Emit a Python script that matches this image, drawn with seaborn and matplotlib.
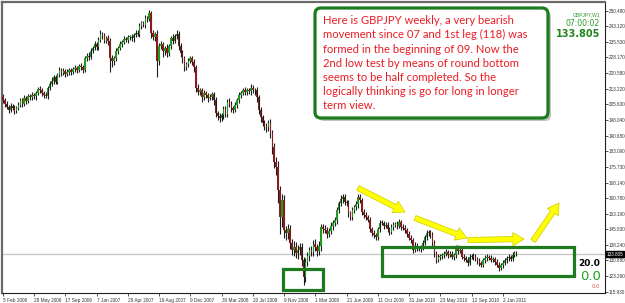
import numpy as np
import pandas as pd
import matplotlib
matplotlib.use("Agg")
import matplotlib.pyplot as plt
import matplotlib.transforms as mtransforms
from matplotlib.patches import Rectangle, FancyBboxPatch, FancyArrowPatch
import seaborn as sns

# ---------------- data ----------------
closes = [
    207.5, 206.0, 204.5, 203.0, 204.8, 204.0, 202.5, 204.0, 205.5, 207.5,
    206.0, 208.5, 207.2, 209.5, 209.0, 210.2, 209.4, 211.0, 213.0, 212.3,
    211.0, 210.0, 209.5, 213.5, 215.6, 217.0, 218.5, 216.5, 219.8, 221.9,
    220.5, 221.8, 220.0, 221.2, 222.0, 221.0, 222.5, 223.0, 222.0, 223.8,
    223.3, 222.0, 227.6, 229.0, 228.5, 231.4, 232.5, 234.7, 233.0, 236.5,
    239.5, 238.6, 236.0, 237.5, 236.0, 228.0, 226.5, 228.0, 231.0, 232.5,
    234.7, 235.5, 237.0, 236.5, 237.8, 238.0, 237.2, 239.0, 240.0, 239.2,
    243.0, 244.5, 243.8, 247.0, 246.5, 249.5, 240.0, 238.0, 239.5, 226.6,
    233.8, 234.5, 231.0, 232.8, 230.4, 233.5, 237.6, 236.0, 238.5, 239.5,
    233.8, 230.0, 227.6, 223.3, 225.0, 226.5, 227.6, 226.0, 223.3, 213.7,
    211.5, 212.3, 209.0, 211.0, 210.0, 208.5, 209.0, 210.5, 207.5, 201.3,
    200.0, 198.9, 200.5, 203.5, 201.0, 207.0, 206.0, 204.0, 202.8, 205.5,
    207.5, 210.0, 211.0, 212.3, 211.5, 212.3, 211.8, 213.7, 212.5, 212.3,
    209.0, 202.8, 199.5, 196.6, 195.5, 194.7, 196.6, 191.8, 185.0, 178.0,
    175.6, 164.6, 151.7, 159.8, 145.5, 144.0, 146.0, 139.3, 136.0, 137.5,
    134.5, 136.0, 137.4, 131.2, 123.1, 130.0, 133.0, 136.0, 135.0, 139.0,
    137.4, 135.5, 138.0, 147.0, 146.0, 145.5, 143.5, 145.0, 147.5, 148.9,
    150.3, 155.0, 158.4, 160.5, 161.3, 159.0, 158.4, 153.6, 151.7, 155.0,
    156.5, 158.0, 161.3, 159.8, 154.1, 152.5, 151.7, 150.3, 146.0, 144.0,
    143.0, 142.2, 146.0, 148.9, 149.0, 147.5, 148.0, 146.0, 144.6, 147.0,
    148.0, 148.5, 147.5, 149.4, 147.0, 146.5, 145.5, 143.5, 141.7, 140.8,
    136.0, 138.0, 137.0, 136.5, 137.0, 139.3, 142.0, 144.0, 144.5, 143.0,
    139.3, 134.5, 131.2, 132.6, 133.0, 133.5, 134.0, 135.0, 133.6, 134.0,
    132.6, 133.5, 136.9, 135.5, 136.0, 132.6, 132.0, 131.2, 129.8, 132.6,
    133.0, 132.6, 131.5, 130.5, 129.5, 128.8, 131.2, 132.0, 132.6, 132.0,
    131.2, 131.5, 130.0, 128.8, 127.4, 128.5, 129.8, 131.0, 132.0, 132.6,
    131.8, 133.5, 134.5, 133.805,
]
first_open = 209.0

upper_wick = [
    1.5, 1.0, 1.2, 1.0, 1.5, 1.0, 1.2, 1.0, 1.5, 1.0,
    1.2, 1.5, 1.0, 1.2, 1.0, 1.5, 1.0, 1.2, 1.0, 1.5,
    1.0, 1.2, 1.5, 1.0, 1.2, 1.5, 1.0, 1.2, 1.0, 1.5,
    1.0, 1.2, 1.0, 1.5, 1.0, 1.2, 1.0, 1.5, 1.0, 1.2,
    1.5, 1.0, 1.2, 1.0, 1.5, 1.0, 1.2, 1.5, 1.0, 1.2,
    1.5, 1.0, 1.2, 1.0, 1.5, 1.5, 1.2, 1.0, 1.5, 1.0,
    1.2, 1.0, 1.5, 1.0, 1.2, 1.0, 1.5, 1.0, 1.2, 1.0,
    1.5, 1.0, 1.2, 1.5, 1.0, 1.5, 1.0, 1.2, 1.0, 1.5,
    1.0, 1.5, 1.2, 1.0, 1.5, 1.2, 1.0, 1.5, 1.0, 1.5,
    1.2, 1.0, 1.5, 1.2, 1.0, 1.5, 1.0, 1.2, 1.5, 1.0,
    1.5, 1.2, 1.0, 1.5, 1.2, 1.0, 1.5, 1.2, 1.0, 1.5,
    1.2, 1.5, 1.0, 1.5, 1.2, 1.0, 1.5, 1.2, 1.0, 1.5,
    1.0, 1.5, 1.2, 1.0, 1.5, 1.2, 1.0, 1.5, 1.2, 1.0,
    1.5, 1.2, 1.5, 1.0, 1.5, 1.2, 1.5, 2.0, 1.5, 2.0,
    2.5, 3.0, 2.0, 3.0, 2.5, 2.0, 2.5, 2.0, 2.0, 2.5,
    2.0, 2.5, 2.0, 2.0, 1.5, 2.0, 2.0, 1.5, 2.0, 1.5,
    2.0, 1.5, 2.0, 1.5, 1.5, 2.0, 1.5, 1.5, 2.0, 1.5,
    1.5, 1.5, 1.0, 1.5, 1.2, 1.5, 1.0, 1.5, 1.2, 1.5,
    1.0, 1.5, 1.2, 1.5, 1.0, 1.2, 1.5, 1.0, 1.2, 1.0,
    1.5, 1.2, 1.0, 1.5, 1.2, 1.0, 1.5, 1.2, 1.0, 1.5,
    1.2, 1.0, 1.5, 1.2, 1.0, 1.5, 1.2, 1.0, 1.5, 1.2,
    1.0, 1.5, 1.2, 1.0, 1.5, 1.2, 1.0, 1.5, 1.2, 1.0,
    1.5, 1.2, 1.0, 1.5, 1.2, 1.0, 1.5, 1.2, 1.0, 1.5,
    1.2, 1.0, 1.5, 1.2, 1.0, 1.5, 1.2, 1.0, 1.5, 1.2,
    1.0, 1.5, 1.2, 1.0, 1.5, 1.2, 1.0, 1.5, 1.2, 1.0,
    1.5, 1.2, 1.0, 1.5, 1.2, 1.0, 1.5, 1.2, 1.0, 1.5,
    1.0, 1.2, 1.0, 0.8,
]

lower_wick = [
    1.0, 1.5, 1.2, 1.5, 1.0, 1.2, 1.5, 1.0, 1.2, 1.0,
    1.5, 1.0, 1.2, 1.0, 1.5, 1.2, 1.0, 1.5, 1.0, 1.2,
    1.5, 1.2, 1.0, 1.5, 1.0, 1.2, 1.5, 1.0, 1.2, 1.0,
    1.5, 1.0, 1.2, 1.0, 1.5, 1.2, 1.0, 1.2, 1.5, 1.0,
    1.2, 1.5, 1.0, 1.2, 1.5, 1.0, 1.2, 1.0, 1.5, 1.2,
    1.0, 1.5, 1.2, 1.0, 2.0, 7.0, 3.0, 2.0, 1.5, 1.2,
    1.0, 1.5, 1.2, 1.0, 1.5, 1.2, 1.0, 1.5, 1.2, 1.0,
    1.5, 1.2, 1.0, 1.5, 1.2, 1.0, 2.5, 1.5, 2.0, 8.0,
    2.0, 1.5, 2.5, 1.5, 2.0, 1.5, 1.2, 1.5, 1.0, 1.5,
    2.0, 1.5, 2.0, 1.5, 1.2, 1.5, 1.0, 1.5, 2.0, 2.0,
    1.5, 1.2, 2.0, 1.5, 1.2, 1.5, 1.0, 1.5, 2.0, 1.5,
    2.0, 1.5, 1.2, 2.0, 1.5, 1.2, 1.5, 2.0, 1.5, 1.0,
    1.5, 1.2, 1.5, 1.0, 1.5, 1.2, 1.0, 1.5, 1.2, 2.0,
    2.0, 2.0, 2.5, 1.5, 2.0, 2.5, 2.0, 2.5, 3.0, 3.0,
    4.0, 6.0, 8.0, 5.0, 4.0, 3.5, 3.0, 3.0, 2.5, 3.0,
    2.5, 3.0, 2.5, 3.0, 4.0, 2.5, 2.0, 2.5, 2.0, 2.0,
    2.0, 2.5, 2.0, 2.5, 2.0, 1.5, 2.0, 1.5, 1.5, 2.0,
    1.5, 2.0, 1.5, 1.5, 2.0, 1.5, 1.5, 2.0, 1.5, 1.5,
    1.5, 1.5, 2.0, 1.5, 1.5, 1.5, 1.5, 1.2, 1.5, 1.5,
    1.5, 1.5, 1.5, 1.5, 1.2, 1.5, 1.2, 1.5, 1.5, 1.2,
    1.5, 1.2, 1.5, 1.2, 1.5, 1.2, 1.5, 1.5, 1.2, 1.5,
    1.5, 1.2, 1.5, 1.2, 1.5, 1.2, 1.0, 1.5, 1.2, 1.5,
    1.5, 2.0, 1.5, 1.2, 1.5, 1.2, 1.5, 1.2, 1.5, 1.2,
    1.0, 1.5, 1.2, 1.5, 1.0, 1.2, 1.5, 1.2, 1.5, 1.0,
    1.2, 1.5, 1.0, 1.2, 1.5, 1.2, 1.0, 1.5, 1.2, 1.0,
    1.2, 1.0, 1.5, 1.2, 1.5, 1.0, 1.2, 1.0, 1.5, 1.2,
    1.0, 1.2, 1.0, 0.8,
]

date_labels = ["5 Feb 2006", "28 May 2006", "17 Sep 2006", "7 Jan 2007",
               "29 Apr 2007", "19 Aug 2007", "9 Dec 2007", "30 Mar 2008",
               "20 Jul 2008", "9 Nov 2008", "1 Mar 2009", "21 Jun 2009",
               "11 Oct 2009", "31 Jan 2010", "23 May 2010", "12 Sep 2010",
               "2 Jan 2011"]
date_tick_weeks = [0, 16, 32, 48, 64, 80, 96, 112, 128, 144, 160, 176,
                   192, 208, 224, 240, 256]

price_ticks = [250.480, 243.120, 235.530, 228.170, 220.580, 213.220, 205.630,
               198.040, 190.680, 183.090, 175.730, 168.140, 160.780, 153.190,
               145.830, 138.240, 130.880, 123.290, 115.930]

current_price = 133.805

note_lines = [
    "Here is GBPJPY weekly, a very bearish",
    "movement since 07 and 1st leg (118) was",
    "formed in the beginning of 09. Now the",
    "2nd low test by means of round bottom",
    "seems to be half completed. So the",
    "logically thinking is go for long in longer",
    "term view.",
]

# ---------------- frame ----------------
n = min(len(closes), len(upper_wick), len(lower_wick))
df = pd.DataFrame({
    "week": np.arange(n),
    "close": closes[:n],
    "open": [first_open] + closes[:n - 1],
    "uw": upper_wick[:n],
    "lw": lower_wick[:n],
})
df["top"] = df[["open", "close"]].max(axis=1)
df["bot"] = df[["open", "close"]].min(axis=1)
df["high"] = df["top"] + df["uw"]
df["low"] = df["bot"] - df["lw"]
df["bull"] = df["close"] >= df["open"]

sns.set_style("white")
plt.rcParams["font.family"] = ["DejaVu Sans"]

W, H = 625, 303
fig = plt.figure(figsize=(W / 100, H / 100), dpi=100)
ax = fig.add_axes([2 / W, 1 - 293 / H, 603 / W, 291 / H])

ident = mtransforms.IdentityTransform()


def P(x, y):
    return (x, H - y)


# y mapping: pixel 10.7 -> 250.48, 291.7 -> 115.93
k = (250.48 - 115.93) / (291.7 - 10.7)
ax.set_ylim(115.93 - (293 - 291.7) * k, 250.48 + (10.7 - 2) * k)
ax.set_xlim(-0.4, -0.4 + 603 / 1.953)

# current price line
ax.axhline(current_price, color="#c4c4c4", lw=0.9, zorder=1)

# candles
ax.vlines(df["week"], df["low"], df["high"], color="#1e1e1e", lw=0.8, zorder=2)
body_h = np.maximum(df["top"] - df["bot"], 0.35)
colors = np.where(df["bull"], "#1f9a1f", "#8b1a1a")
ax.bar(df["week"], body_h, bottom=df["bot"], width=0.8, color=colors,
       linewidth=0, zorder=3)

# axes styling
for s in ["left", "top"]:
    ax.spines[s].set_color("#6a6a6a")
    ax.spines[s].set_linewidth(1.6)
for s in ["right", "bottom"]:
    ax.spines[s].set_color("#202020")
    ax.spines[s].set_linewidth(0.8)

tick_font = ["Liberation Sans", "DejaVu Sans"]
ax.yaxis.tick_right()
ax.set_yticks(price_ticks)
ax.set_yticklabels([f"{v:.3f}" for v in price_ticks], family=tick_font)
ax.tick_params(axis="y", which="both", right=True, left=False, length=2,
               width=0.6, pad=1.0, labelsize=3.3, labelcolor="#333333",
               color="#333333")
ax.set_xticks(date_tick_weeks)
ax.set_xticklabels(date_labels, family=tick_font)
ax.tick_params(axis="x", bottom=True, length=2.5, width=0.6, pad=1.0,
               labelsize=3.4, labelcolor="#333333", color="#333333")
for lbl in ax.get_xticklabels():
    lbl.set_ha("left")
ax.grid(False)

# current price tag on axis
ax.text(1.003, current_price, "133.805",
        transform=mtransforms.blended_transform_factory(ax.transAxes, ax.transData),
        fontsize=3.3, family=tick_font, color="white", va="center", ha="left",
        bbox=dict(boxstyle="square,pad=0.12", fc="black", ec="black"), zorder=10, clip_on=False)

# note box with shadow
shadow = FancyBboxPatch(P(318, 121), 233, 110, boxstyle="round,pad=0,rounding_size=6",
                        transform=ident, fc="#9a9a9a", ec="none", alpha=0.6, zorder=5)
box = FancyBboxPatch(P(315, 118), 233, 110, boxstyle="round,pad=0,rounding_size=6",
                     transform=ident, fc="white", ec="#1c7c1c", lw=2.3, zorder=6)
fig.add_artist(shadow)
fig.add_artist(box)
for j, line in enumerate(note_lines):
    fig.text(*P(323, 20.7 + 14.2 * j), line, transform=ident, color="#ea1c24",
             fontsize=8.1, family=["Lato", "DejaVu Sans"], va="center", ha="left", zorder=7)

# green highlight rectangles
for (x0, y0, x1, y1) in [(283, 268.5, 322.5, 290), (381.5, 247, 573.5, 276)]:
    fig.add_artist(Rectangle(P(x0, y1), x1 - x0, y1 - y0, transform=ident,
                             fill=False, ec="#1e7a1e", lw=2.3, zorder=6))

# yellow arrows
for (xa, ya, xb, yb) in [(358, 188, 405, 212), (415, 218, 467, 238),
                         (468, 240, 524, 239), (533, 241, 559, 203)]:
    fig.add_artist(FancyArrowPatch(P(xa, ya), P(xb, yb), transform=ident,
                                   arrowstyle="simple,head_length=0.8,head_width=0.95,tail_width=0.38",
                                   mutation_scale=10, fc="#ffff00", ec="#caca00", lw=0.5,
                                   shrinkA=0, shrinkB=0, zorder=8))

# top-right info
fig.text(*P(600, 15), "GBPJPY,W1", transform=ident, fontsize=3.6, color="#2a9a2a",
         family=tick_font, ha="right", va="center")
fig.text(*P(600, 24), "07:00:02", transform=ident, fontsize=5.6, color="#2a9a2a",
         ha="right", va="center")
fig.text(*P(600, 34), "133.805", transform=ident, fontsize=7.0, color="#1e841e",
         ha="right", va="center", fontweight="bold")

# bottom-right info
fig.text(*P(600, 264), "20.0", transform=ident, fontsize=6.5, color="black",
         ha="right", va="center", fontweight="bold")
fig.text(*P(601, 277), "0.0", transform=ident, fontsize=9.5, color="#22a022",
         ha="right", va="center")
fig.text(*P(600, 287), "0.0", transform=ident, fontsize=3.8, color="#e05050",
         ha="right", va="center")

fig.savefig("out.png", dpi=100)
